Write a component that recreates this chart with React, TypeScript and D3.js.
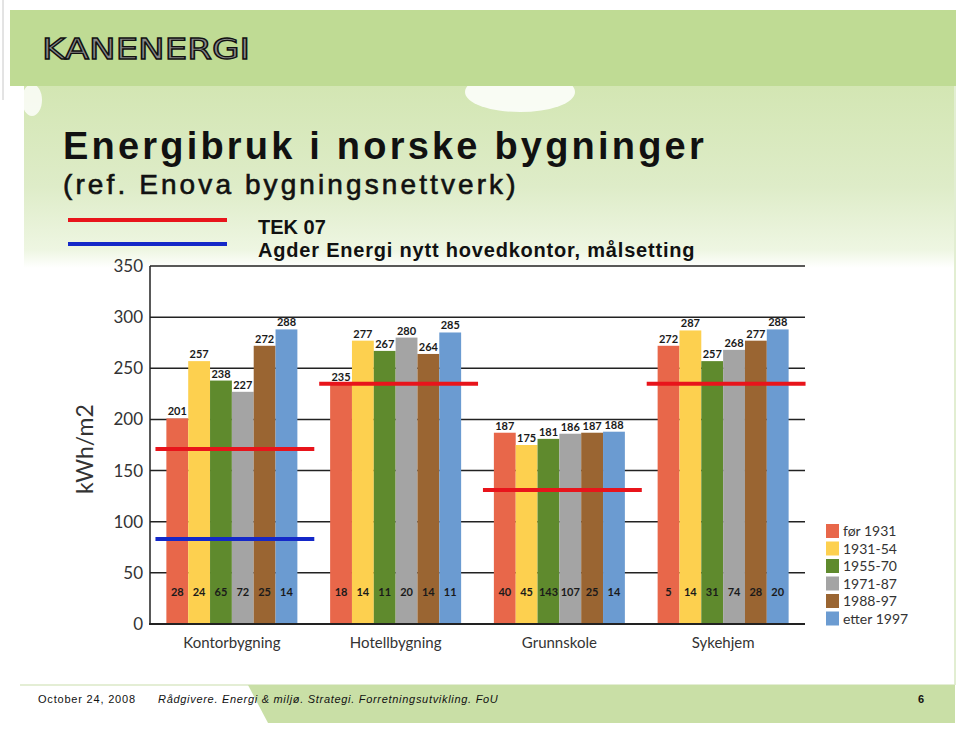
import React from 'react';
import * as d3 from 'd3';

// building types and construction periods
const categories = ['Kontorbygning', 'Hotellbygning', 'Grunnskole', 'Sykehjem'];
const periods = ['før 1931', '1931-54', '1955-70', '1971-87', '1988-97', 'etter 1997'];
const periodColors = ['#e8674a', '#fdd04f', '#5f8a2d', '#a4a4a4', '#9a6532', '#6b9bd1'];

// kWh/m2 per period, one array per building type
const kontorbygning = [201, 257, 238, 227, 272, 288];
const hotellbygning = [235, 277, 267, 280, 264, 285];
const grunnskole = [187, 175, 181, 186, 187, 188];
const sykehjem = [272, 287, 257, 268, 277, 288];

// number of buildings behind each bar
const kontorAntall = [28, 24, 65, 72, 25, 14];
const hotellAntall = [18, 14, 11, 20, 14, 11];
const skoleAntall = [40, 45, 143, 107, 25, 14];
const sykehjemAntall = [5, 14, 31, 74, 28, 20];

// reference lines
const tek07 = [171, 235, 131, 235];
const agderMaal = [83];

const yTicks = [0, 50, 100, 150, 200, 250, 300, 350];

const values = [kontorbygning, hotellbygning, grunnskole, sykehjem];
const counts = [kontorAntall, hotellAntall, skoleAntall, sykehjemAntall];

const W = 960;
const H = 731;

export default function App() {
  const x = d3.scaleBand().domain(categories).range([150, 805]).paddingInner(0.2).paddingOuter(0.1);
  const xi = d3.scaleBand().domain(periods).range([0, x.bandwidth()]);
  const y = d3.scaleLinear().domain([0, 350]).range([624, 266]);
  const legendY = d3.scaleBand().domain(periods).range([522, 627]);

  const calibri = 'Lato, "Open Sans", sans-serif';
  const arial = '"Liberation Sans", Arial, sans-serif';

  return (
    <svg width={W} height={H} style={{ position: 'absolute', left: 0, top: 0, background: '#fff' }}>
      <defs>
        <linearGradient id="wash" x1="0" y1="0" x2="0" y2="1">
          <stop offset="0" stopColor="#d3e6b3" />
          <stop offset="0.55" stopColor="#deecc8" />
          <stop offset="0.9" stopColor="#eef6e2" />
          <stop offset="1" stopColor="#ffffff" />
        </linearGradient>
      </defs>

      {/* slide background */}
      <rect x={0} y={0} width={W} height={H} fill="#fff" />
      <line x1={3} y1={0} x2={3} y2={100} stroke="#c8c8c8" />
      <path d="M24,86 L955,86 L955,268 L24,268 Z" fill="url(#wash)" />
      <ellipse cx={520} cy={92} rx={55} ry={20} fill="#fff" opacity={0.85} />
      <ellipse cx={32} cy={100} rx={10} ry={16} fill="#fff" opacity={0.8} />
      <line x1={955} y1={86} x2={955} y2={685} stroke="#e2eed2" strokeWidth={2} />
      <line x1={20} y1={685} x2={955} y2={685} stroke="#dbe9c7" strokeWidth={1.5} />
      <path d="M248,685 L955,685 L955,723 L350,723 L268,723 Z" fill="#c9dfa6" />
      <rect x={10} y={10} width={946} height={76} fill="#bfdb94" />

      {/* logo */}
      <text
        x={42}
        y={59}
        fontFamily={'"DejaVu Sans", sans-serif'}
        fontSize={26}
        fill="#8a8a8a"
        stroke="#111"
        strokeWidth={1.2}
        textLength={208}
        lengthAdjust="spacingAndGlyphs"
        transform="translate(0,-5) scale(1,1.08)"
      >
        KANENERGI
      </text>

      {/* title */}
      <text x={63} y={159} fontFamily={arial} fontWeight="bold" fontSize={38} letterSpacing={3.2} fill="#111">
        Energibruk i norske bygninger
      </text>
      <text
        x={63}
        y={194}
        fontFamily={arial}
        fontSize={28}
        letterSpacing={3.1}
        fill="#111"
        stroke="#111"
        strokeWidth={0.6}
      >
        (ref. Enova bygningsnettverk)
      </text>

      {/* line legend */}
      <line x1={68} x2={227} y1={220} y2={220} stroke="#e8141b" strokeWidth={4} />
      <line x1={68} x2={227} y1={244} y2={244} stroke="#1428c8" strokeWidth={4} />
      <text x={258} y={234} fontFamily={arial} fontWeight="bold" fontSize={20} fill="#111">
        TEK 07
      </text>
      <text x={258} y={257} fontFamily={arial} fontWeight="bold" fontSize={20} letterSpacing={0.8} fill="#111">
        Agder Energi nytt hovedkontor, målsetting
      </text>

      {/* grid lines */}
      {yTicks.map((t) => (
        <g key={t}>
          {t > 0 && <line x1={150} x2={805} y1={y(t)} y2={y(t)} stroke="#222" strokeWidth={1.5} />}
          <text x={143} y={y(t) + 6} textAnchor="end" fontFamily={calibri} fontSize={17} fill="#333">
            {t}
          </text>
        </g>
      ))}
      <text
        transform={`translate(93,${(y(0) + y(350)) / 2 + 4}) rotate(-90)`}
        textAnchor="middle"
        fontFamily={calibri}
        fontSize={23}
        fill="#333"
      >
        kWh/m2
      </text>

      {/* bars */}
      {categories.map((c, ci) => (
        <g key={c} transform={`translate(${x(c)},0)`}>
          {periods.map((p, pi) => {
            const v = values[ci][pi];
            const bx = xi(p) as number;
            return (
              <g key={p}>
                <rect x={bx} y={y(v)} width={xi.bandwidth()} height={y(0) - y(v)} fill={periodColors[pi]} />
                <text
                  x={bx + xi.bandwidth() / 2}
                  y={y(v) - 3}
                  textAnchor="middle"
                  fontFamily={calibri}
                  fontWeight="bold"
                  fontSize={11}
                  fill="#1a1a1a"
                >
                  {v}
                </text>
                <text
                  x={bx + xi.bandwidth() / 2}
                  y={596}
                  textAnchor="middle"
                  fontFamily={calibri}
                  fontWeight="bold"
                  fontSize={11}
                  fill="#1a1a1a"
                >
                  {counts[ci][pi]}
                </text>
              </g>
            );
          })}
          <text
            x={x.bandwidth() / 2}
            y={648}
            textAnchor="middle"
            fontFamily={calibri}
            fontSize={15}
            fill="#333"
          >
            {c}
          </text>
        </g>
      ))}

      {/* axes */}
      <line x1={150} x2={150} y1={y(350)} y2={y(0)} stroke="#222" strokeWidth={1.5} />
      <line x1={149} x2={805} y1={y(0)} y2={y(0)} stroke="#222" strokeWidth={2} />

      {/* reference lines */}
      {tek07.map((v, i) => {
        const cx = (x(categories[i]) as number) + x.bandwidth() / 2 + 3;
        const half = x.step() * 0.485;
        return <line key={i} x1={cx - half} x2={cx + half} y1={y(v)} y2={y(v)} stroke="#e8141b" strokeWidth={4} />;
      })}
      {agderMaal.map((v, i) => {
        const cx = (x(categories[i]) as number) + x.bandwidth() / 2 + 3;
        const half = x.step() * 0.485;
        return <line key={i} x1={cx - half} x2={cx + half} y1={y(v)} y2={y(v)} stroke="#1428c8" strokeWidth={4} />;
      })}

      {/* period legend */}
      {periods.map((p, i) => (
        <g key={p} transform={`translate(826,${(legendY(p) as number) + 2})`}>
          <rect x={0} y={0} width={13} height={14} fill={periodColors[i]} />
          <text x={17} y={12} fontFamily={calibri} fontSize={14} fill="#333">
            {p}
          </text>
        </g>
      ))}

      {/* footer */}
      <text x={38} y={703} fontFamily={arial} fontSize={11} letterSpacing={0.8} fill="#111">
        October 24, 2008
      </text>
      <text x={158} y={703} fontFamily={arial} fontStyle="italic" fontSize={11} letterSpacing={0.7} fill="#111">
        Rådgivere. Energi &amp; miljø. Strategi. Forretningsutvikling. FoU
      </text>
      <text x={918} y={703} fontFamily={arial} fontWeight="bold" fontSize={11} fill="#111">
        6
      </text>
    </svg>
  );
}
